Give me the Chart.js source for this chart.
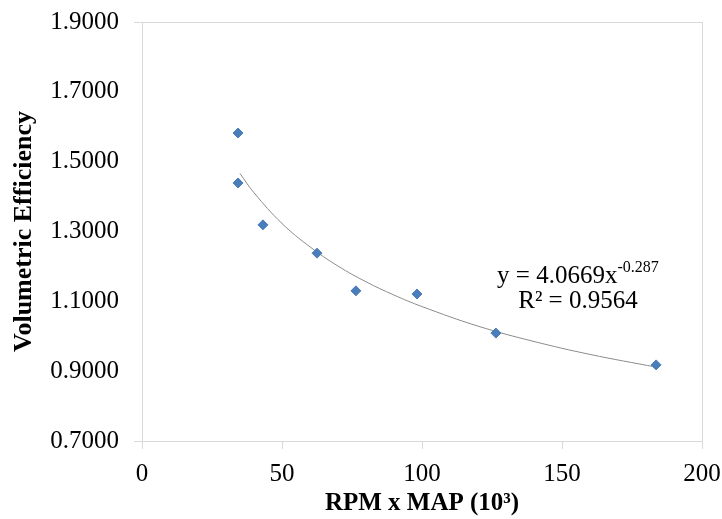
<!DOCTYPE html>
<html>
<head>
<meta charset="utf-8">
<script src="https://cdn.jsdelivr.net/npm/chart.js@4/dist/chart.umd.min.js"></script>
<style>
  html, body { margin: 0; padding: 0; background: #fff; }
  #wrap { width: 722px; height: 519px; }
</style>
</head>
<body>
<div id="wrap"><canvas id="ve-chart" width="722" height="519"></canvas></div>
<script>
// measured points (RPM x MAP in 10^3, volumetric efficiency)
const rpmMap = [34.3, 34.3, 43.2, 62.5, 76.4, 98.2, 126.4, 183.6];
const volEff = [1.582, 1.439, 1.319, 1.238, 1.130, 1.121, 1.009, 0.918];

// power trendline
const trendX = [35, 40, 50, 60, 70, 80, 90, 100, 120, 140, 160, 184];
const trendY = [1.466, 1.411, 1.323, 1.256, 1.201, 1.156, 1.118, 1.085, 1.029, 0.985, 0.948, 0.911];

const xTicks = [0, 50, 100, 150, 200];
const yTicks = [0.7, 0.9, 1.1, 1.3, 1.5, 1.7, 1.9];

const eqLine1 = 'y = 4.0669x';
const eqExp = '-0.287';
const eqLine2 = 'R² = 0.9564';

const serif = '"Liberation Serif", "Times New Roman", serif';

const boxAndLabel = {
    id: 'boxAndLabel',
    afterDraw(chart) {
        const { ctx, chartArea: a, scales } = chart;
        ctx.save();
        ctx.strokeStyle = '#d9d9d9';
        ctx.lineWidth = 1;
        ctx.strokeRect(a.left + 0.5, a.top + 0.5, a.right - a.left, a.bottom - a.top);
        // equation text
        const cx = scales.x.getPixelForValue(155.7);
        const y1 = scales.y.getPixelForValue(1.170);
        const y2 = scales.y.getPixelForValue(1.101);
        ctx.fillStyle = '#000';
        ctx.textBaseline = 'middle';
        ctx.font = '25px ' + serif;
        const w1 = ctx.measureText(eqLine1).width;
        ctx.font = '16px ' + serif;
        const w2 = ctx.measureText(eqExp).width;
        let start = cx - (w1 + w2) / 2;
        ctx.font = '25px ' + serif;
        ctx.textAlign = 'left';
        ctx.fillText(eqLine1, start, y1);
        ctx.font = '16px ' + serif;
        ctx.fillText(eqExp, start + w1, y1 - 9);
        ctx.font = '25px ' + serif;
        ctx.textAlign = 'center';
        ctx.fillText(eqLine2, cx, y2);
        ctx.restore();
    }
};

new Chart(document.getElementById('ve-chart'), {
    type: 'scatter',
    data: {
        datasets: [{
                label: 'Volumetric Efficiency',
                data: rpmMap.map((x, i) => ({ x: x, y: volEff[i] })),
                pointStyle: 'rectRot',
                pointRadius: 5,
                pointHoverRadius: 5,
                backgroundColor: '#4a7ebb',
                borderColor: '#4a7ebb',
                borderWidth: 1,
                order: 1
            }, {
                label: 'Power trend',
                type: 'line',
                data: trendX.map((x, i) => ({ x: x, y: trendY[i] })),
                borderColor: '#8c8c8c',
                borderWidth: 1,
                pointRadius: 0,
                tension: 0.4,
                fill: false,
                order: 2
            }]
    },
    options: {
        responsive: false,
        animation: false,
        layout: {
            padding: { top: 22, right: 20, left: 0, bottom: 0 }
        },
        plugins: {
            legend: { display: false },
            tooltip: { enabled: false }
        },
        scales: {
            x: {
                type: 'linear',
                min: 0,
                max: 200,
                afterBuildTicks: (s) => { s.ticks = xTicks.map(v => ({ value: v })); },
                afterFit: (s) => { s.height = 78; s.paddingLeft = 0; s.paddingRight = 0; },
                ticks: {
                    font: { family: serif, size: 25 },
                    color: '#000',
                    padding: 10
                },
                grid: {
                    drawOnChartArea: false,
                    tickLength: 8,
                    color: '#d9d9d9'
                },
                border: { color: '#d9d9d9' },
                title: {
                    display: true,
                    text: 'RPM x MAP (10³)',
                    font: { family: serif, size: 25, weight: 'bold' },
                    color: '#000',
                    padding: { top: 7, bottom: 0 }
                }
            },
            y: {
                type: 'linear',
                min: 0.7,
                max: 1.9,
                afterBuildTicks: (s) => { s.ticks = yTicks.map(v => ({ value: v })); },
                afterFit: (s) => { s.width = 142; s.paddingTop = 0; s.paddingBottom = 0; },
                ticks: {
                    font: { family: serif, size: 25 },
                    color: '#000',
                    padding: 15,
                    callback: (v) => Number(v).toFixed(4)
                },
                grid: {
                    drawOnChartArea: false,
                    tickLength: 8,
                    color: (c) => (c.index === 0 || c.index === yTicks.length - 1) ? '#d9d9d9' : 'rgba(0,0,0,0)'
                },
                border: { color: '#d9d9d9' },
                title: {
                    display: true,
                    text: 'Volumetric Efficiency',
                    font: { family: serif, size: 26, weight: 'bold' },
                    color: '#000',
                    padding: { top: 9, bottom: 0 }
                }
            }
        }
    },
    plugins: [boxAndLabel]
});
</script>
</body>
</html>
